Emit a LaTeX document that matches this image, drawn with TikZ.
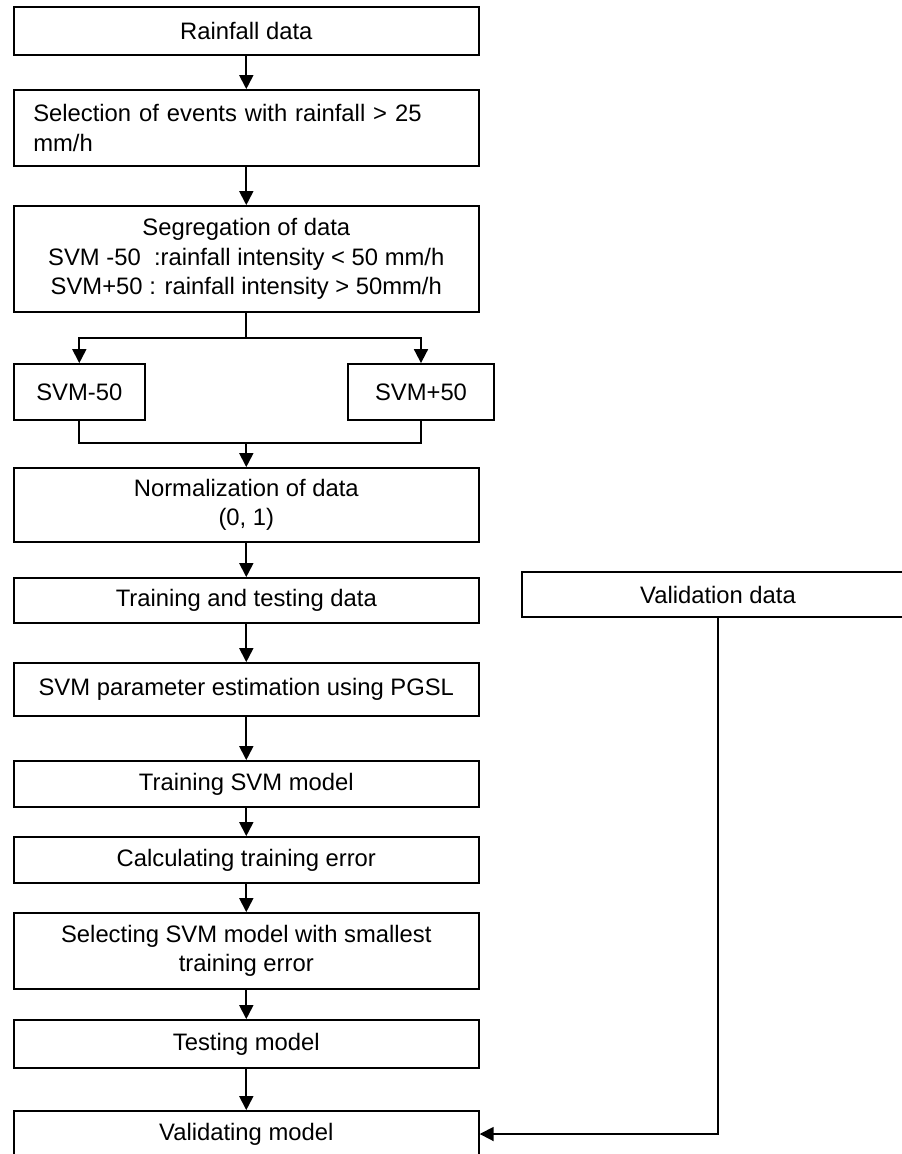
\documentclass[tikz,border=0pt]{standalone}
\usepackage{fontspec}
\setmainfont{Liberation Sans}
\usepackage{tikz}
\usetikzlibrary{arrows.meta}
\usetikzlibrary{calc}

\begin{document}
\begin{tikzpicture}[x=1pt, y=-1pt]

        \tikzstyle{block}  = [draw, line width=1.8pt, rectangle, inner sep=0pt, align=center,
                              font=\fontsize{23.8}{29.5}\selectfont]
        \tikzstyle{link}   = [line width=1.8pt, -{Triangle[length=14pt, width=14pt]}]
        \tikzstyle{plain}  = [line width=1.8pt]

        \useasboundingbox (0,0) rectangle (902,1154);

        % main column
        \node [block, minimum width=465pt, minimum height=47.7pt](rain) at (246.3, 31.2) {Rainfall data};
        \node [block, minimum width=465pt, minimum height=76pt, text width=426pt, align=left](sel) at (246.3, 128)
                {Selection of events with rainfall > 25\\mm/h};
        \node [block, minimum width=465pt, minimum height=106pt](segr) at (246.3, 259)
                {Segregation of data\\SVM -50\ \ :rainfall intensity < 50 mm/h\\SVM+50 : rainfall intensity > 50mm/h};

        \node [block, minimum width=131pt, minimum height=56pt](svmm) at (79.3, 392) {SVM-50};
        \node [block, minimum width=146pt, minimum height=56pt](svmp) at (421, 392) {SVM+50};

        \node [block, minimum width=465pt, minimum height=74pt](norm) at (246.3, 505) {Normalization of data\\(0, 1)};
        \node [block, minimum width=465pt, minimum height=45pt](train) at (246.3, 600.5) {Training and testing data};
        \node [block, minimum width=465pt, minimum height=53pt](param) at (246.3, 689.5) {SVM parameter estimation using PGSL};
        \node [block, minimum width=465pt, minimum height=46pt](trsvm) at (246.3, 784) {Training SVM model};
        \node [block, minimum width=465pt, minimum height=46pt](calc) at (246.3, 860) {Calculating training error};
        \node [block, minimum width=465pt, minimum height=76pt](selm) at (246.3, 951) {Selecting SVM model with smallest\\training error};
        \node [block, minimum width=465pt, minimum height=48pt](test) at (246.3, 1044) {Testing model};
        \node [block, minimum width=465pt, minimum height=46pt](valm) at (246.3, 1134) {Validating model};

        % right column
        \node [block, minimum width=392pt, minimum height=45pt](vdat) at (718, 594.5) {Validation data};

        \coordinate (split) at (246.3, 338);
        \coordinate (merge) at (246.3, 443);

        \draw [link] (rain) -- (sel);
        \draw [link] (sel) -- (segr);
        \draw [plain] (segr) -- (split);
        \draw [link] (split) -| (svmm);
        \draw [link] (split) -| (svmp);
        \draw [plain] (svmm) |- (merge) -| (svmp);
        \draw [link] (merge) -- (norm);

        \foreach \a/\b in {norm/train, train/param, param/trsvm, trsvm/calc, calc/selm, selm/test, test/valm}
        {
                \draw [link] (\a) -- (\b);
        }

        \draw [link] (vdat) |- (valm);

\end{tikzpicture}
\end{document}
